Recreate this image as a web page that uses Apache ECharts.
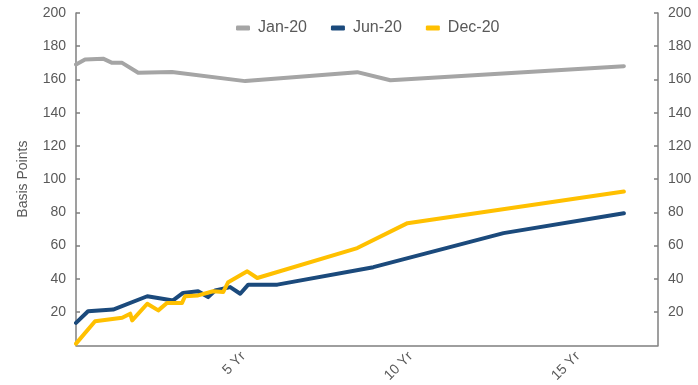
<!DOCTYPE html>
<html>
<head>
<meta charset="utf-8">
<script src="https://cdn.jsdelivr.net/npm/echarts@6/dist/echarts.min.js"></script>
<style>
  html, body { margin:0; padding:0; background:#fff; }
  #chart { width:698px; height:385px; }
</style>
</head>
<body>
<div id="chart"></div>
<script>
// ---- data (x = years to maturity, y = basis points) ----
const seriesNames = ['Jan-20', 'Jun-20', 'Dec-20'];
const seriesColors = ['#A5A5A5', '#1B4A7C', '#FFC000'];

const janX = [0, 0.27, 0.81, 1.08, 1.38, 1.86, 2.87, 5.06, 8.41, 9.40, 16.38];
const janY = [169, 172, 172.5, 170, 170, 164, 164.5, 159, 164.4, 159.5, 168];

const junX = [0, 0.36, 1.11, 2.13, 2.90, 3.20, 3.65, 3.95, 4.16, 4.61, 4.91, 5.15, 6.02, 8.89, 12.78, 16.38];
const junY = [13.5, 20.5, 21.5, 29.5, 27, 31.5, 32.5, 29, 33, 35, 31, 36.5, 36.5, 47, 67.5, 79.5];

const decX = [0, 0.57, 1.38, 1.62, 1.68, 2.13, 2.46, 2.72, 3.17, 3.26, 3.65, 4.10, 4.40, 4.55, 5.12, 5.42, 8.41, 9.91, 16.38];
const decY = [1, 14.5, 16.6, 19, 15, 25, 21, 25.5, 25.5, 29.5, 30, 32.5, 32, 38, 44.5, 40.5, 58.5, 73.5, 92.5];

const yTicks = { min: 0, max: 200, interval: 20 };
const xTicks = { min: 0, max: 17.4, interval: 5 };

const zip = (xs, ys) => xs.map((x, i) => [x, ys[i]]);
const seriesData = [zip(janX, janY), zip(junX, junY), zip(decX, decY)];

const txt = '#595959';
const axisCol = '#7F7F7F';
const font = 'Liberation Sans, Arial, sans-serif';

const yAxisBase = (pos) => ({
  type: 'value',
  position: pos,
  min: yTicks.min, max: yTicks.max, interval: yTicks.interval,
  axisLine: { show: true, lineStyle: { color: axisCol, width: 1.5 } },
  axisTick: { show: true, inside: true, length: 4, lineStyle: { color: axisCol, width: 1.5 } },
  axisLabel: { showMinLabel: false, color: txt, fontSize: 14, fontFamily: font, margin: 10 },
  splitLine: { show: false }
});

const chart = echarts.init(document.getElementById('chart'), null, { renderer: 'canvas' });
chart.setOption({
  animation: false,
  backgroundColor: '#fff',
  grid: { left: 76, right: 40, top: 13, bottom: 39 },
  legend: {
    top: 15,
    left: 231,
    icon: 'roundRect',
    itemWidth: 14, itemHeight: 5,
    itemGap: 24,
    textStyle: { color: txt, fontSize: 16, fontFamily: font, padding: [0, 0, 0, 3] },
    data: seriesNames
  },
  xAxis: {
    type: 'value',
    min: xTicks.min, max: xTicks.max, interval: xTicks.interval,
    axisLine: { show: true, onZero: false, lineStyle: { color: axisCol, width: 1.5 } },
    axisTick: { show: false },
    splitLine: { show: false },
    axisLabel: {
      rotate: 45, showMinLabel: false, showMaxLabel: false,
      color: txt, fontSize: 14, fontFamily: font, margin: 9,
      formatter: v => v + ' Yr'
    }
  },
  yAxis: [
    Object.assign(yAxisBase('left'), {
      name: 'Basis Points', nameLocation: 'middle', nameRotate: 90, nameGap: 46,
      nameTextStyle: { color: txt, fontSize: 14, fontFamily: font }
    }),
    yAxisBase('right')
  ],
  series: seriesNames.map((name, i) => ({
    name,
    type: 'line',
    yAxisIndex: 0,
    data: seriesData[i],
    symbol: 'none',
    color: seriesColors[i],
    lineStyle: { width: 4, color: seriesColors[i], cap: 'round', join: 'round' }
  }))
});
</script>
</body>
</html>
